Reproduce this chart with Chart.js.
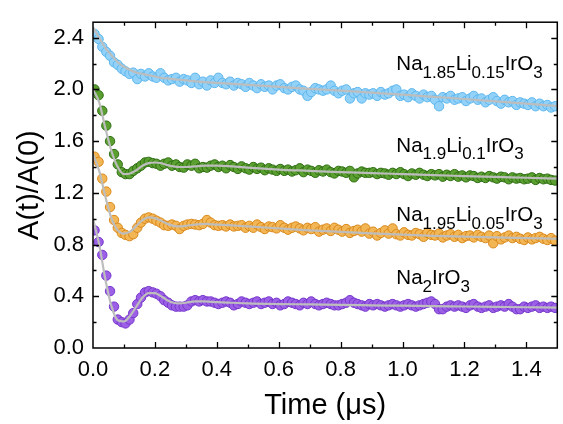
<!DOCTYPE html>
<html>
<head>
<meta charset="utf-8">
<script src="https://cdn.jsdelivr.net/npm/chart.js@4"></script>
<style>
html,body{margin:0;padding:0;background:#fff;}
canvas{display:block;}
</style>
</head>
<body>
<canvas id="c" width="563" height="424"></canvas>
<script>
// ---- data ----
const times = [
0.005,0.018,0.030,0.043, 0.055,0.068,0.080,0.093, 0.105,0.118,0.130,0.143, 0.155,0.168,0.180,0.193, 0.205,0.218,0.230,0.243,
0.255,0.268,0.280,0.293, 0.305,0.318,0.330,0.343, 0.355,0.368,0.380,0.393, 0.405,0.418,0.430,0.443, 0.455,0.468,0.480,0.493,
0.505,0.518,0.530,0.543, 0.555,0.568,0.580,0.593, 0.605,0.618,0.630,0.643, 0.655,0.668,0.680,0.693, 0.705,0.718,0.730,0.743,
0.755,0.768,0.780,0.793, 0.805,0.818,0.830,0.843, 0.855,0.868,0.880,0.893, 0.905,0.918,0.930,0.943, 0.955,0.968,0.980,0.993,
1.005,1.018,1.030,1.043, 1.055,1.068,1.080,1.093, 1.105,1.118,1.130,1.143, 1.155,1.168,1.180,1.193, 1.205,1.218,1.230,1.243,
1.255,1.268,1.280,1.293, 1.305,1.318,1.330,1.343, 1.355,1.368,1.380,1.393, 1.405,1.418,1.430,1.443, 1.455,1.468,1.480,1.493
];
const na185 = [
2.43,2.39,2.33,2.29, 2.26,2.21,2.19,2.16, 2.14,2.12,2.13,2.08, 2.12,2.10,2.125,2.10, 2.09,2.125,2.09,2.07,
2.08,2.09,2.06,2.08, 2.07,2.05,2.09,2.04, 2.06,2.03,2.07,2.05, 2.09,2.05,2.04,2.06, 2.03,2.05,2.04,2.02,
2.05,2.03,2.01,2.04, 2.02,2.03,2.00,2.03, 2.04,2.01,2.00,2.02, 2.03,2.00,1.99,1.95, 1.98,2.01,2.00,1.99,
2.00,2.03,1.99,1.97, 1.99,2.00,1.93,1.97, 1.98,1.93,1.97,1.96, 1.97,1.95,1.98,1.96, 1.97,1.99,2.00,1.95,
1.96,1.94,1.97,1.95, 1.93,1.96,1.94,1.95, 1.92,1.87,1.94,1.93, 1.95,1.92,1.93,1.94, 1.91,1.93,1.95,1.92,
1.93,1.90,1.92,1.94, 1.91,1.89,1.92,1.90, 1.91,1.88,1.90,1.89, 1.88,1.90,1.87,1.89, 1.87,1.88,1.86,1.87
];
const na19 = [
2.00,1.955,1.835,1.72, 1.60,1.50,1.42,1.36, 1.345,1.345,1.37,1.39, 1.41,1.435,1.44,1.43, 1.425,1.41,1.425,1.435,
1.41,1.42,1.40,1.395, 1.42,1.41,1.425,1.39, 1.40,1.395,1.41,1.42, 1.40,1.41,1.39,1.415, 1.40,1.385,1.405,1.39,
1.38,1.40,1.385,1.395, 1.375,1.39,1.38,1.37, 1.385,1.37,1.38,1.365, 1.375,1.39,1.36,1.38, 1.37,1.355,1.375,1.365,
1.38,1.36,1.35,1.37, 1.365,1.355,1.37,1.32, 1.35,1.365,1.355,1.355, 1.36,1.345,1.355,1.35, 1.34,1.355,1.345,1.36,
1.345,1.33,1.35,1.34, 1.355,1.34,1.33,1.345, 1.335,1.345,1.325,1.34, 1.33,1.345,1.325,1.335, 1.32,1.335,1.33,1.315,
1.325,1.315,1.33,1.32, 1.31,1.325,1.32,1.305, 1.32,1.31,1.315,1.305, 1.31,1.32,1.30,1.315, 1.305,1.31,1.30,1.295
];
const na195 = [
1.48,1.44,1.31,1.21, 1.09,0.99,0.93,0.89, 0.875,0.865,0.88,0.93, 0.97,1.00,1.01,1.00, 0.985,0.97,0.95,0.945,
0.955,0.945,0.92,0.945, 0.955,0.96,0.955,0.95, 0.96,0.99,0.97,0.95, 0.945,0.95,0.94,0.955, 0.94,0.945,0.95,0.93,
0.945,0.93,0.955,0.935, 0.92,0.94,0.935,0.925, 0.95,0.93,0.915,0.93, 0.94,0.925,0.91,0.93, 0.92,0.935,0.90,0.915,
0.925,0.905,0.93,0.915, 0.90,0.92,0.89,0.905, 0.915,0.90,0.925,0.885, 0.90,0.87,0.89,0.91, 0.885,0.925,0.88,0.87,
0.895,0.875,0.87,0.89, 0.88,0.86,0.89,0.875, 0.87,0.885,0.855,0.87, 0.88,0.86,0.875,0.85, 0.865,0.87,0.855,0.875,
0.86,0.85,0.87,0.81, 0.865,0.84,0.855,0.87, 0.85,0.86,0.845,0.835, 0.855,0.84,0.85,0.86, 0.845,0.835,0.85,0.83
];
const na2 = [
0.91,0.82,0.72,0.56, 0.44,0.32,0.22,0.20, 0.19,0.22,0.27,0.34, 0.39,0.43,0.44,0.43, 0.42,0.40,0.37,0.35,
0.33,0.32,0.32,0.32, 0.33,0.36,0.37,0.36, 0.37,0.36,0.36,0.35, 0.34,0.35,0.36,0.35, 0.33,0.34,0.36,0.35,
0.34,0.35,0.36,0.34, 0.35,0.36,0.34,0.35, 0.33,0.34,0.36,0.35, 0.34,0.33,0.35,0.34, 0.36,0.34,0.33,0.34,
0.35,0.34,0.33,0.33, 0.34,0.35,0.37,0.35, 0.34,0.33,0.32,0.34, 0.33,0.34,0.33,0.32, 0.33,0.34,0.33,0.32,
0.33,0.34,0.33,0.32, 0.33,0.34,0.35,0.36, 0.34,0.30,0.30,0.32, 0.33,0.32,0.33,0.32, 0.31,0.33,0.34,0.32,
0.31,0.32,0.33,0.31, 0.32,0.33,0.32,0.34, 0.32,0.30,0.30,0.32, 0.31,0.32,0.33,0.31, 0.32,0.31,0.32,0.31
];
// fit curves
const fitTimes = [0,0.02,0.04,0.06,0.08,0.10,0.12,0.14,0.16,0.18,0.20,0.22,0.24,0.26,0.28,0.30,0.33,0.36,0.40,0.45,0.5,0.6,0.7,0.8,0.9,1.0,1.1,1.2,1.3,1.4,1.5];
const fit185 = [2.48,2.40,2.32,2.265,2.21,2.175,2.15,2.13,2.12,2.11,2.10,2.09,2.085,2.08,2.075,2.07,2.063,2.057,2.05,2.043,2.035,2.02,2.005,1.99,1.975,1.96,1.943,1.926,1.908,1.89,1.872];
const fit19 = [2.00,1.90,1.70,1.52,1.40,1.345,1.35,1.375,1.41,1.43,1.435,1.43,1.415,1.405,1.40,1.40,1.405,1.41,1.41,1.405,1.395,1.38,1.37,1.36,1.353,1.345,1.337,1.33,1.323,1.317,1.31];
const fit195 = [1.50,1.37,1.17,1.00,0.91,0.885,0.90,0.945,0.99,1.01,1.005,0.985,0.96,0.945,0.94,0.945,0.955,0.96,0.955,0.948,0.94,0.925,0.91,0.898,0.887,0.877,0.868,0.861,0.855,0.85,0.845];
const fit2 = [1.00,0.80,0.53,0.32,0.215,0.205,0.25,0.32,0.39,0.425,0.425,0.40,0.37,0.35,0.345,0.35,0.36,0.36,0.355,0.35,0.345,0.34,0.337,0.333,0.33,0.327,0.324,0.321,0.318,0.315,0.312];

const xTicks = [0.0,0.2,0.4,0.6,0.8,1.0,1.2,1.4];
const yTicks = [0.0,0.4,0.8,1.2,1.6,2.0,2.4];
const xTitle = 'Time (\u03bcs)';
const yTitle = 'A(t)/A(0)';
// label pieces: alternating normal / subscript
const seriesLabels = [
  {parts:['Na','1.85','Li','0.15','IrO','3'], x:0.98, y:2.148},
  {parts:['Na','1.9','Li','0.1','IrO','3'], x:0.98, y:1.517},
  {parts:['Na','1.95','Li','0.05','IrO','3'], x:0.98, y:0.982},
  {parts:['Na','2','IrO','3'], x:0.98, y:0.494}
];

const FONT = '"Liberation Sans", Arial, sans-serif';
const pts = (xs, ys) => ys.map((v, i) => ({x: xs[i], y: v}));

function scatterSet(vals, fill, border) {
  return {type:'scatter', data: pts(times, vals), backgroundColor: fill, borderColor: border,
    borderWidth: 1, pointRadius: 4.7, pointHoverRadius: 4.7, showLine: false, order: 1};
}
function fitSet(vals) {
  return {type:'line', data: pts(fitTimes, vals), borderColor: '#bdbdbd', borderWidth: 2.2,
    pointRadius: 0, fill: false, cubicInterpolationMode: 'monotone', order: 0};
}

const framePlugin = {
  id: 'frame',
  afterDraw(chart) {
    const ctx = chart.ctx, a = chart.chartArea;
    const xs = chart.scales.x, ys = chart.scales.y;
    ctx.save();
    ctx.strokeStyle = '#000';
    ctx.lineWidth = 1.5;
    ctx.strokeRect(a.left, a.top, a.right - a.left, a.bottom - a.top);
    // ticks inward
    ctx.lineWidth = 1.3;
    const maj = 6, mnr = 3.5;
    ctx.beginPath();
    const xStep = xTicks[1] - xTicks[0];
    for (let v = 0; v <= xs.max + 1e-9; v += xStep / 2) {
      const isMaj = Math.abs(Math.round(v / xStep) * xStep - v) < 1e-6;
      const L = isMaj ? maj : mnr;
      const px = Math.round(xs.getPixelForValue(v)) + 0.5;
      if (px <= a.left + 1 || px >= a.right - 1) continue;
      ctx.moveTo(px, a.bottom); ctx.lineTo(px, a.bottom - L);
      ctx.moveTo(px, a.top); ctx.lineTo(px, a.top + L);
    }
    const yStep = yTicks[1] - yTicks[0];
    for (let v = 0; v <= ys.max + 1e-9; v += yStep / 2) {
      const isMaj = Math.abs(Math.round(v / yStep) * yStep - v) < 1e-6;
      const L = isMaj ? maj : mnr;
      const py = Math.round(ys.getPixelForValue(v)) + 0.5;
      if (py >= a.bottom - 1 || py <= a.top + 1) continue;
      ctx.moveTo(a.left, py); ctx.lineTo(a.left + L, py);
      ctx.moveTo(a.right, py); ctx.lineTo(a.right - L, py);
    }
    ctx.stroke();
    // axis titles
    ctx.fillStyle = '#000';
    ctx.font = '29px ' + FONT;
    ctx.textAlign = 'center';
    ctx.textBaseline = 'alphabetic';
    ctx.fillText(xTitle, (a.left + a.right) / 2, chart.height - 10);
    ctx.save();
    ctx.translate(38, (a.top + a.bottom) / 2);
    ctx.rotate(-Math.PI / 2);
    ctx.fillText(yTitle, 0, 0);
    ctx.restore();
    // series labels
    ctx.textAlign = 'left';
    for (const lab of seriesLabels) {
      let px = xs.getPixelForValue(lab.x);
      const py = ys.getPixelForValue(lab.y);
      lab.parts.forEach((p, i) => {
        const sub = i % 2 === 1;
        ctx.font = (sub ? '17px ' : '20.5px ') + FONT;
        ctx.fillText(p, px, sub ? py + 7.5 : py);
        px += ctx.measureText(p).width;
      });
    }
    ctx.restore();
  }
};

new Chart(document.getElementById('c'), {
  type: 'scatter',
  data: {
    datasets: [
      fitSet(fit185), fitSet(fit19), fitSet(fit195), fitSet(fit2),
      scatterSet(na185, '#93d2f8', '#5cb6ee'),
      scatterSet(na19, '#5a9f30', '#2f6e14'),
      scatterSet(na195, '#f3b654', '#d9881c'),
      scatterSet(na2, '#9c60e6', '#7636cc')
    ]
  },
  options: {
    responsive: false,
    animation: false,
    events: [],
    layout: {padding: {top: 7, right: 5, left: 0, bottom: 0}},
    plugins: {legend: {display: false}, tooltip: {enabled: false}},
    scales: {
      x: {
        type: 'linear', min: 0, max: 1.5,
        afterBuildTicks: s => { s.ticks = xTicks.map(v => ({value: v})); },
        afterFit: s => { s.height = 76; },
        grid: {display: true, drawOnChartArea: false, drawTicks: false},
        border: {display: false},
        ticks: {color: '#000', font: {size: 22, family: FONT}, padding: 9, maxRotation: 0,
          callback: v => Number(v).toFixed(1)}
      },
      y: {
        type: 'linear', min: 0, max: 2.52,
        afterBuildTicks: s => { s.ticks = yTicks.map(v => ({value: v})); },
        afterFit: s => { s.width = 93; },
        grid: {display: true, drawOnChartArea: false, drawTicks: false},
        border: {display: false},
        ticks: {color: '#000', font: {size: 22, family: FONT}, padding: 9,
          callback: v => Number(v).toFixed(1)}
      }
    }
  },
  plugins: [framePlugin]
});
</script>
</body>
</html>
